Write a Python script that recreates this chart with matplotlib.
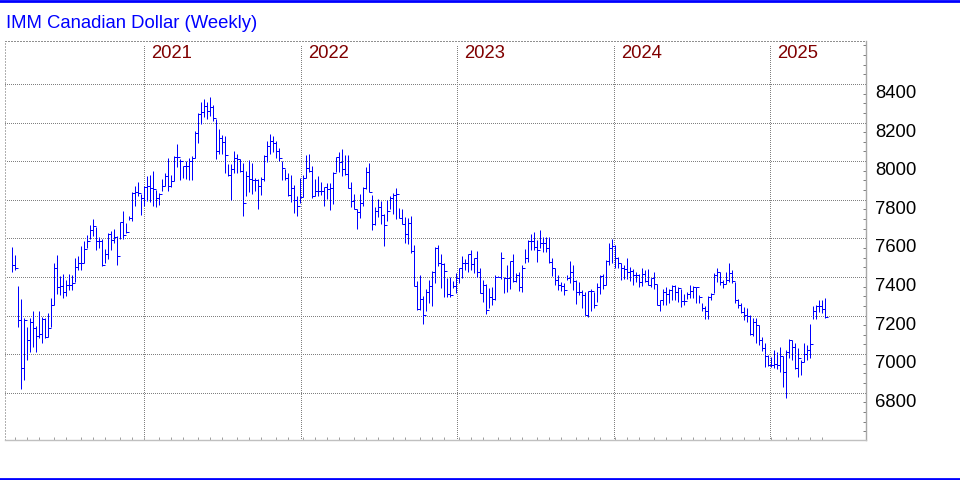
import numpy as np
import pandas as pd
import matplotlib
matplotlib.use('Agg')
import matplotlib.pyplot as plt
import matplotlib.transforms as mtransforms
from matplotlib.ticker import MultipleLocator
from matplotlib.lines import Line2D

plt.rcParams['font.family'] = ['Liberation Sans', 'DejaVu Sans']

# weekly bars, first one is the week ending 2020-02-28
start = '2020-02-28'

highs = [
    7553, 7511, 7351, 7287, 7186, 7139, 7186, 7224, 7148, 7224,
    7191, 7186, 7212, 7290, 7470, 7511, 7404, 7417, 7386, 7417,
    7412, 7499, 7508, 7560, 7586, 7616, 7668, 7699, 7659, 7609,
    7595, 7543, 7626, 7638, 7647, 7612, 7685, 7743, 7678, 7717,
    7838, 7870, 7894, 7830, 7870, 7925, 7929, 7948, 7852, 7835,
    7908, 7939, 8017, 7930, 8026, 8087, 8009, 7977, 8000, 8017,
    8026, 8157, 8249, 8304, 8322, 8304, 8330, 8290, 8217, 8165,
    8134, 8130, 7983, 7983, 8052, 8035, 8009, 7991, 7948, 8005,
    7988, 7913, 7908, 7918, 8030, 8104, 8139, 8130, 8104, 8070,
    8000, 7957, 7939, 7930, 7878, 7817, 7911, 7929, 8033, 8038,
    7977, 7908, 7922, 7894, 7864, 7887, 7887, 7946, 8021, 8047,
    8064, 8030, 8030, 7890, 7830, 7751, 7830, 7864, 7969, 7991,
    7824, 7760, 7803, 7795, 7725, 7800, 7821, 7835, 7859, 7755,
    7751, 7708, 7703, 7717, 7563, 7377, 7412, 7299, 7337, 7386,
    7430, 7557, 7563, 7517, 7471, 7393, 7402, 7379, 7419, 7448,
    7510, 7493, 7517, 7540, 7497, 7536, 7448, 7384, 7362, 7345,
    7350, 7410, 7404, 7528, 7400, 7462, 7483, 7517, 7419, 7424,
    7462, 7547, 7590, 7621, 7634, 7591, 7643, 7608, 7608, 7608,
    7497, 7448, 7410, 7376, 7367, 7410, 7483, 7462, 7384, 7376,
    7333, 7322, 7325, 7339, 7322, 7371, 7412, 7417, 7487, 7574,
    7597, 7565, 7504, 7470, 7461, 7496, 7452, 7443, 7426, 7417,
    7447, 7435, 7443, 7395, 7423, 7365, 7283, 7339, 7348, 7339,
    7360, 7357, 7348, 7336, 7313, 7322, 7360, 7351, 7348, 7308,
    7264, 7247, 7299, 7317, 7422, 7445, 7427, 7384, 7427, 7470,
    7436, 7375, 7284, 7263, 7243, 7237, 7203, 7186, 7186, 7151,
    7091, 7056, 6996, 6987, 7021, 7013, 7035, 6990, 7021, 7077,
    7073, 7056, 7030, 6970, 7056, 7047, 7156, 7249, 7255, 7281,
    7281, 7289,
]

lows = [
    7424, 7438, 7143, 6819, 6868, 6972, 7012, 7038, 7009, 7082,
    7056, 7085, 7090, 7143, 7256, 7313, 7308, 7290, 7299, 7330,
    7334, 7372, 7435, 7435, 7473, 7551, 7595, 7612, 7539, 7550,
    7456, 7473, 7494, 7539, 7577, 7464, 7595, 7595, 7630, 7696,
    7690, 7769, 7821, 7720, 7769, 7795, 7790, 7765, 7761, 7774,
    7844, 7870, 7843, 7866, 7896, 7970, 7904, 7913, 7908, 7904,
    7901, 8017, 8096, 8191, 8231, 8217, 8235, 8209, 8009, 8035,
    8035, 7939, 7922, 7800, 7939, 7939, 7943, 7717, 7817, 7838,
    7831, 7843, 7751, 7826, 7896, 7995, 8035, 8047, 8017, 8000,
    7901, 7904, 7817, 7786, 7730, 7717, 7783, 7812, 7911, 7946,
    7807, 7821, 7817, 7824, 7769, 7803, 7748, 7777, 7943, 7943,
    7925, 7930, 7859, 7760, 7751, 7647, 7703, 7769, 7856, 7838,
    7643, 7668, 7708, 7673, 7560, 7690, 7751, 7725, 7699, 7703,
    7673, 7574, 7569, 7525, 7351, 7230, 7230, 7155, 7221, 7264,
    7247, 7369, 7456, 7341, 7298, 7298, 7298, 7341, 7316, 7367,
    7397, 7436, 7424, 7436, 7419, 7402, 7316, 7272, 7207, 7238,
    7255, 7281, 7398, 7390, 7319, 7321, 7336, 7376, 7372, 7328,
    7324, 7471, 7479, 7540, 7540, 7479, 7552, 7531, 7531, 7474,
    7405, 7359, 7333, 7328, 7307, 7385, 7367, 7333, 7259, 7307,
    7238, 7204, 7191, 7221, 7238, 7269, 7313, 7339, 7360, 7464,
    7470, 7447, 7447, 7383, 7391, 7388, 7377, 7357, 7374, 7348,
    7353, 7374, 7357, 7348, 7339, 7256, 7226, 7256, 7256, 7266,
    7278, 7283, 7269, 7243, 7252, 7287, 7290, 7290, 7264, 7264,
    7221, 7183, 7183, 7282, 7315, 7376, 7358, 7341, 7363, 7375,
    7367, 7267, 7237, 7211, 7177, 7168, 7099, 7094, 7056, 7047,
    7018, 6935, 6939, 6935, 6926, 6921, 6909, 6831, 6771, 6978,
    6970, 6921, 6880, 6892, 6961, 6970, 6978, 7180, 7180, 7220,
    7215, 7186,
]

closes = [
    7464, 7447, 7176, 6930, 7177, 7071, 7165, 7134, 7094, 7103,
    7181, 7087, 7134, 7254, 7447, 7346, 7355, 7322, 7360, 7360,
    7369, 7452, 7473, 7473, 7546, 7584, 7642, 7664, 7584, 7584,
    7464, 7520, 7621, 7591, 7609, 7508, 7685, 7616, 7633, 7703,
    7833, 7838, 7833, 7809, 7864, 7873, 7861, 7857, 7809, 7830,
    7873, 7925, 7870, 7896, 8021, 8021, 8000, 7974, 7977, 8000,
    8017, 8148, 8243, 8257, 8287, 8261, 8278, 8221, 8052, 8122,
    8099, 8030, 7929, 7957, 8017, 8009, 7948, 7783, 7925, 7908,
    7901, 7901, 7870, 7908, 8026, 8078, 8104, 8096, 8052, 8017,
    7965, 7913, 7826, 7861, 7800, 7765, 7812, 7911, 7963, 7951,
    7821, 7847, 7847, 7847, 7864, 7856, 7859, 7939, 8021, 7998,
    7960, 7934, 7859, 7795, 7751, 7737, 7783, 7859, 7946, 7842,
    7673, 7741, 7760, 7720, 7671, 7743, 7807, 7824, 7830, 7703,
    7673, 7621, 7678, 7534, 7351, 7233, 7285, 7204, 7320, 7355,
    7425, 7551, 7473, 7466, 7431, 7310, 7307, 7355, 7393, 7448,
    7471, 7471, 7517, 7466, 7497, 7424, 7316, 7359, 7229, 7298,
    7286, 7402, 7400, 7497, 7393, 7397, 7483, 7379, 7410, 7350,
    7448, 7497, 7586, 7586, 7557, 7540, 7574, 7574, 7552, 7479,
    7445, 7385, 7359, 7355, 7333, 7397, 7424, 7379, 7324, 7324,
    7307, 7204, 7325, 7325, 7256, 7348, 7405, 7360, 7482, 7548,
    7562, 7499, 7470, 7447, 7443, 7426, 7430, 7412, 7409, 7374,
    7417, 7377, 7357, 7395, 7365, 7256, 7278, 7322, 7313, 7330,
    7353, 7322, 7343, 7273, 7273, 7313, 7325, 7348, 7348, 7294,
    7238, 7221, 7294, 7311, 7410, 7427, 7375, 7363, 7384, 7419,
    7379, 7281, 7255, 7220, 7203, 7198, 7104, 7168, 7151, 7073,
    7030, 6990, 6944, 6944, 6949, 6944, 6990, 6909, 7013, 7073,
    7035, 6926, 6978, 6961, 7001, 7021, 7053, 7225, 7249, 7249,
    7232, 7191,
]

years = [2021, 2022, 2023, 2024, 2025]
price_ticks = [6800, 7000, 7200, 7400, 7600, 7800, 8000, 8200, 8400]

n = len(closes)
dates = pd.date_range(start, periods=n, freq='W-FRI')
x = np.arange(n)

blue = '#0000ff'
dot = (0, (1, 2))

fig = plt.figure(figsize=(9.6, 4.8), dpi=100)
ax = fig.add_axes([5.3 / 960, 40 / 480, 860.4 / 960, 399.3 / 480])
ax.set_xlim(-2.33, 284.5)
ax.set_ylim(6555, 8624)

# HLC bars: high-low line plus close tick on the right
ax.vlines(x, lows, highs, colors=blue, linewidth=0.72, snap=True, zorder=3)
ax.hlines(closes, x, x + 0.9, colors=blue, linewidth=0.72, snap=True, zorder=3)

# grid
ax.set_yticks(price_ticks)
ax.grid(axis='y', which='major', color='#808080', linestyle=dot, linewidth=0.72,
        antialiased=False)
for yr in years:
    xp = (pd.Timestamp(yr, 1, 1) - dates[0]).days / 7
    ax.axvline(xp, ymax=0.992, color='#808080', linestyle=dot, linewidth=0.72,
               antialiased=False, zorder=1)
    ax.text(xp + 2.4, 0.968, str(yr), transform=ax.get_xaxis_transform(),
            color='#800000', fontsize=13.3, va='center', ha='left')

# spines
ax.spines['top'].set_linestyle(dot)
ax.spines['top'].set_color('#909090')
ax.spines['top'].set_linewidth(0.72)
ax.spines['left'].set_linestyle(dot)
ax.spines['left'].set_color('#b0b0b0')
ax.spines['left'].set_linewidth(0.72)
ax.spines['right'].set_color('#a8a8a8')
ax.spines['right'].set_linewidth(1.0)
ax.spines['bottom'].set_color('#c0c0c0')
ax.spines['bottom'].set_linewidth(1.0)

# y axis on the right
ax.yaxis.tick_right()
ax.yaxis.set_minor_locator(MultipleLocator(50))
ax.tick_params(axis='y', which='major', length=0, pad=7, labelsize=13.3, labelcolor='black')
ax.tick_params(axis='y', which='minor', direction='in', length=2.2, width=0.72,
               color='#808080', right=True, left=False)
offset = mtransforms.ScaledTranslation(0, -0.075, fig.dpi_scale_trans)
for lbl in ax.get_yticklabels():
    lbl.set_transform(lbl.get_transform() + offset)

# monthly ticks along the bottom
month_pos = [i for i in range(1, n) if dates[i].month != dates[i - 1].month]
ax.set_xticks(month_pos)
ax.tick_params(axis='x', direction='in', length=2.2, width=0.72, color='#a0a0a0',
               labelbottom=False)

fig.text(6 / 960, 1 - 23 / 480, 'IMM Canadian Dollar (Weekly)', color=blue,
         fontsize=13.3, va='center', ha='left')
fig.add_artist(Line2D([0, 1], [1 - 1.3 / 480] * 2, transform=fig.transFigure,
                      color=blue, linewidth=2.0))
fig.add_artist(Line2D([0, 1], [1.4 / 480] * 2, transform=fig.transFigure,
                      color=blue, linewidth=2.0))

fig.savefig('out.png', dpi=100)
